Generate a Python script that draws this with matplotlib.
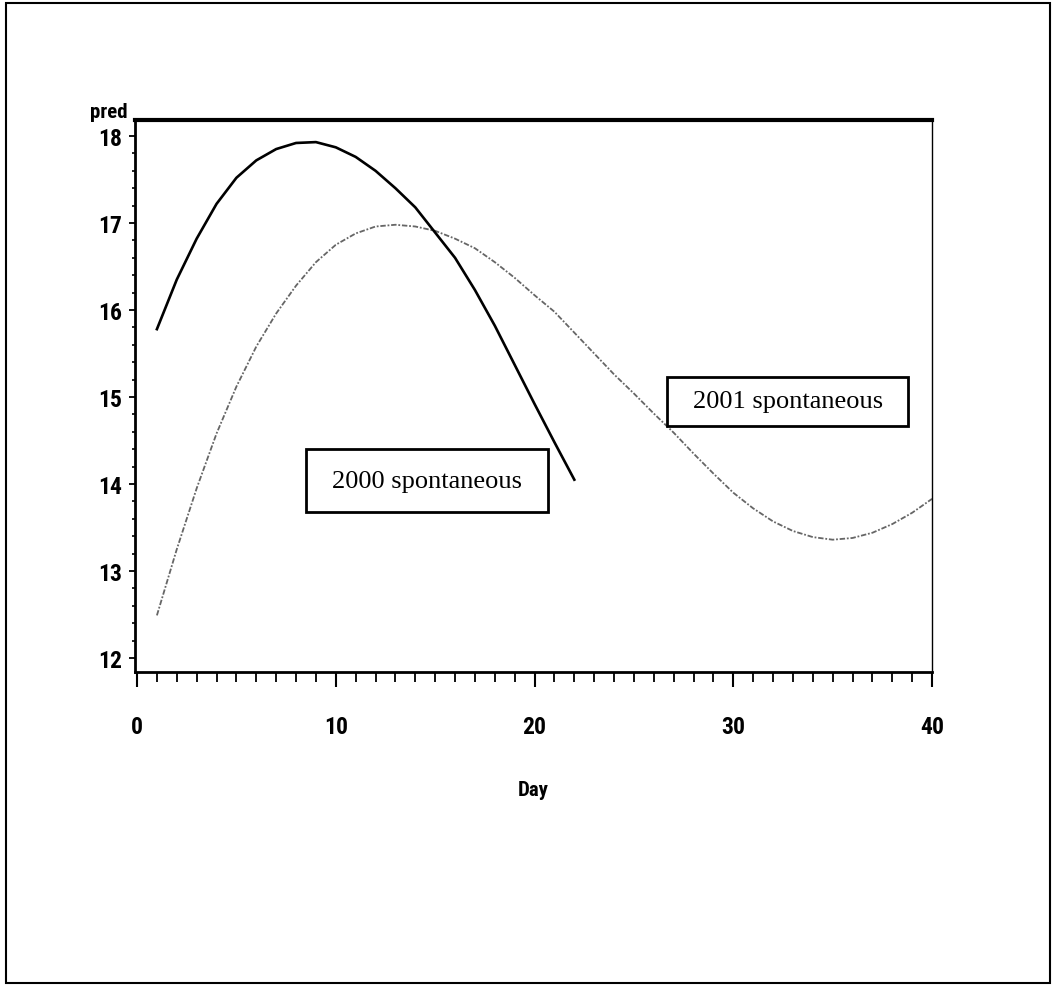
import numpy as np
import matplotlib.pyplot as plt
from matplotlib import font_manager
from matplotlib.patches import Rectangle
from matplotlib.ticker import MultipleLocator

# du lieu doc tu hinh
day_2000 = list(range(1, 23))
pred_2000 = [15.78, 16.35, 16.82, 17.22, 17.52, 17.72, 17.85, 17.92, 17.93, 17.87,
             17.76, 17.60, 17.40, 17.18, 16.89, 16.60, 16.23, 15.82, 15.37, 14.92,
             14.48, 14.05]

day_2001 = list(range(1, 41))
pred_2001 = [12.49, 13.25, 13.95, 14.58, 15.12, 15.58, 15.96, 16.28, 16.55, 16.75,
             16.88, 16.96, 16.98, 16.96, 16.91, 16.82, 16.71, 16.55, 16.37, 16.17,
             15.98, 15.74, 15.50, 15.26, 15.04, 14.81, 14.59, 14.35, 14.12, 13.90,
             13.72, 13.57, 13.46, 13.39, 13.36, 13.38, 13.44, 13.54, 13.67, 13.83]

x_ticks = [0, 10, 20, 30, 40]
y_ticks = [12, 13, 14, 15, 16, 17, 18]
label_2000 = '2000 spontaneous'
label_2001 = '2001 spontaneous'

# chon font hep (narrow) neu co
names = {f.name for f in font_manager.fontManager.ttflist}
narrow = None
for cand in ['Liberation Sans Narrow', 'DejaVu Sans Condensed', 'Roboto Condensed',
             'Open Sans Condensed']:
    if cand in names:
        narrow = cand
        break
if narrow is None:
    tick_font = dict(family=['DejaVu Sans'], weight='bold', stretch='condensed', size=15)
    name_font = dict(family=['DejaVu Sans'], weight='bold', stretch='condensed', size=13)
else:
    tick_font = dict(family=[narrow, 'DejaVu Sans'], weight='bold', size=17)
    name_font = dict(family=[narrow, 'DejaVu Sans'], weight='bold', size=15)
box_font = dict(family=['Liberation Serif', 'DejaVu Serif'], size=19)

fig = plt.figure(figsize=(10.55, 9.87), dpi=100)
ax = fig.add_axes([0.128, 0.3181, 0.7555, 0.5593])

ax.plot(day_2000, pred_2000, color='black', lw=1.9, zorder=3)
ax.plot(day_2001, pred_2001, color='0.4', lw=1.3, ls=(0, (3, 1, 1, 1)), zorder=2)

ax.set_xlim(-0.1, 40)
ax.set_ylim(11.839, 18.184)

ax.set_xticks(x_ticks)
ax.set_yticks(y_ticks)
ax.xaxis.set_minor_locator(MultipleLocator(1))
ax.yaxis.set_minor_locator(MultipleLocator(0.2))
ax.set_xticklabels([str(v) for v in x_ticks], fontdict=tick_font)
ax.set_yticklabels([str(v) for v in y_ticks], fontdict=tick_font)
ax.tick_params(axis='x', which='major', direction='out', length=11, width=1.5, pad=20)
ax.tick_params(axis='x', which='minor', direction='out', length=7, width=1.3)
ax.tick_params(axis='y', which='major', direction='out', length=4, width=1.3, pad=5)
ax.tick_params(axis='y', which='minor', direction='out', length=2.5, width=1.2)

ax.spines['top'].set_linewidth(3)
ax.spines['left'].set_linewidth(2)
ax.spines['bottom'].set_linewidth(2)
ax.spines['right'].set_linewidth(1)

# hop nhan cua hai duong
ax.add_patch(Rectangle((8.50, 13.678), 12.18, 0.724, fc='white', ec='black',
                       lw=2, zorder=4))
ax.add_patch(Rectangle((26.67, 14.667), 12.12, 0.563, fc='white', ec='black',
                       lw=2, zorder=4))
ax.text(14.59, 14.04, label_2000, ha='center', va='center', fontdict=box_font, zorder=5)
ax.text(32.73, 14.95, label_2001, ha='center', va='center', fontdict=box_font, zorder=5)

fig.text(90 / 1055, 1 - 113 / 987, 'pred', ha='left', va='center', fontdict=name_font)
fig.text(533 / 1055, 1 - 791 / 987, 'Day', ha='center', va='center', fontdict=name_font)

# khung ngoai
fig.patches.append(Rectangle((6 / 1055, 1 - 984 / 987), 1044 / 1055, 980 / 987,
                             transform=fig.transFigure, fill=False, ec='black', lw=1.5))

fig.savefig('out.png', dpi=100)
